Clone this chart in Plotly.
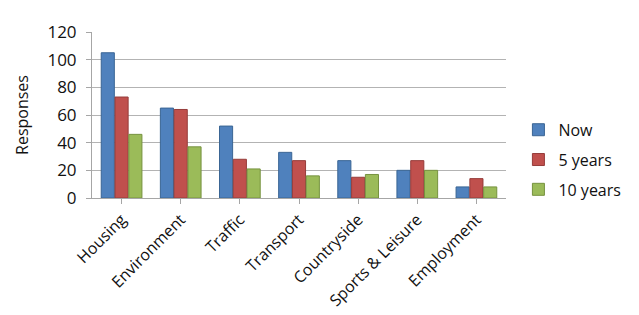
import plotly.graph_objects as go

categories = ["Housing", "Environment", "Traffic", "Transport", "Countryside", "Sports & Leisure", "Employment"]
now_vals = [105, 65, 52, 33, 27, 20, 8]
five_year_vals = [73, 64, 28, 27, 15, 27, 14]
ten_year_vals = [46, 37, 21, 16, 17, 20, 8]
y_ticks = [0, 20, 40, 60, 80, 100, 120]

series = [
    ("Now", now_vals, "#4F81BD", "#3A6594"),
    ("5 years", five_year_vals, "#C0504D", "#963C3A"),
    ("10 years", ten_year_vals, "#9BBB59", "#76923F"),
]

fig = go.Figure()
for name, vals, color, line in series:
    fig.add_trace(go.Bar(
        x=categories, y=vals, name=name, legendgroup=name,
        marker=dict(color=color, line=dict(color=line, width=1)),
    ))

font_family = "Open Sans"
fig.update_layout(
    width=639, height=315,
    margin=dict(l=84, r=141, t=18, b=123),
    paper_bgcolor="white", plot_bgcolor="white",
    barmode="group", bargap=0.3, bargroupgap=0.05,
    font=dict(family=font_family, size=15, color="#111111"),
    showlegend=True,
    legend=dict(x=1.03, xanchor="left", y=0.23, yanchor="middle",
                font=dict(size=16), tracegroupgap=6, itemwidth=30,
                traceorder="grouped"),
    xaxis=dict(
        tickangle=-45, tickfont=dict(size=16),
        showline=True, linecolor="#a6a6a6", linewidth=1,
        ticks="outside", ticklen=5, tickcolor="#a6a6a6",
        showgrid=False,
    ),
    yaxis=dict(
        range=[0, 120], tickvals=y_ticks, tickfont=dict(size=17),
        showgrid=True, gridcolor="#b3b3b3", gridwidth=1,
        showline=True, linecolor="#a6a6a6", linewidth=1,
        ticks="outside", ticklen=5, tickcolor="#a6a6a6",
        ticklabelstandoff=6,
        title=dict(text="Responses", font=dict(size=16), standoff=14),
        zeroline=False,
    ),
)

fig.write_html("out.html")
